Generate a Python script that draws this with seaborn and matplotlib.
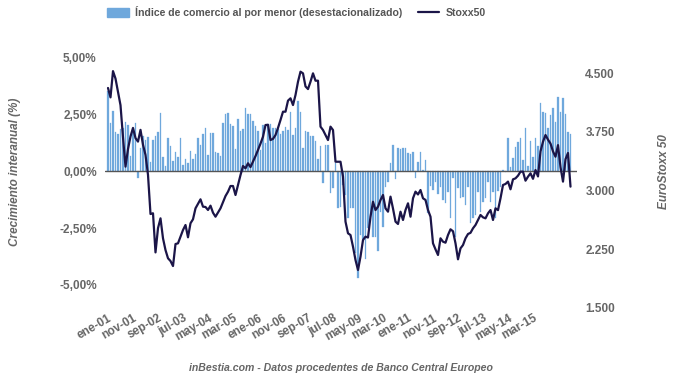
import numpy as np
import pandas as pd
import matplotlib.pyplot as plt
import seaborn as sns
from matplotlib.patches import Patch
from matplotlib.lines import Line2D

sns.set_style("white")
plt.rcParams['font.family'] = ['Liberation Sans', 'DejaVu Sans']

# ventas minoristas, % interanual (mensual, ene-01 .. jun-16)
retail = [
    3.50, 2.10, 2.63, 1.70, 1.63, 1.86, 1.90, 2.16, 2.02, 0.67,
    1.80, 2.09, -0.32, 1.00, 1.55, 1.36, 1.50, 0.41, 1.36, 1.55,
    1.73, 2.53, 0.62, 0.22, 1.46, 1.10, 0.44, 0.85, 0.63, 1.43,
    0.26, 0.51, 0.37, 0.88, 0.53, 0.75, 1.46, 1.14, 1.61, 1.90,
    0.70, 1.65, 1.65, 0.85, 0.77, 0.66, 2.09, 2.50, 2.53, 2.05,
    1.99, 0.95, 2.27, 1.75, 1.84, 2.78, 2.50, 2.50, 2.19, 1.99,
    1.75, 0.92, 2.00, 1.25, 2.07, 2.07, 1.88, 1.87, 1.84, 1.63,
    1.74, 1.93, 1.80, 2.57, 1.58, 1.88, 3.08, 2.57, 0.99, 1.75,
    1.70, 1.55, 1.55, 1.32, 0.53, 1.10, -0.51, 1.14, 1.14, -0.98,
    -0.76, 0.34, -1.61, -1.57, -0.60, -1.05, -2.05, -1.64, -1.64, -3.60,
    -4.70, -2.80, -3.00, -3.84, -2.50, -2.00, -2.90, -2.90, -3.50, -1.80,
    -2.44, -0.70, -0.47, 0.35, 1.14, -0.35, 1.00, 0.95, 1.03, 1.02,
    0.77, 0.75, 0.82, -0.32, 0.41, 0.82, 0.05, 0.48, -1.86, -0.64,
    -0.83, -0.47, -1.02, -0.69, -1.29, -1.42, -0.91, -2.08, -0.32, -2.88,
    -0.76, -1.20, -1.13, -1.49, -0.69, -2.30, -2.08, -1.93, -0.91, -1.78,
    -1.35, -1.20, -0.47, -1.35, -0.91, -2.08, -0.88, -0.69, 0.03, -0.05,
    1.43, 0.17, 0.58, 1.04, 1.27, 1.43, 0.50, 1.87, 0.22, 1.33,
    0.60, 1.43, 1.10, 2.97, 2.58, 2.55, 1.88, 2.46, 2.75, 2.16,
    3.23, 2.57, 3.19, 2.49, 1.73, 1.62,
]

# EuroStoxx 50
stoxx = [
    4310, 4190, 4525, 4430, 4260, 4090, 3680, 3305, 3530, 3690,
    3800, 3670, 3625, 3775, 3585, 3455, 3200, 2700, 2710, 2210,
    2520, 2645, 2390, 2240, 2135, 2100, 2036, 2317, 2326, 2410,
    2496, 2560, 2403, 2582, 2633, 2773, 2830, 2888, 2794, 2790,
    2752, 2807, 2717, 2666, 2720, 2773, 2850, 2930, 2985, 3058,
    3058, 2943, 3071, 3198, 3313, 3284, 3348, 3300, 3370, 3440,
    3518, 3600, 3688, 3837, 3840, 3645, 3660, 3709, 3800, 3901,
    4007, 4007, 4148, 4178, 4092, 4220, 4390, 4518, 4497, 4330,
    4296, 4390, 4497, 4403, 4403, 3816, 3773, 3709, 3645, 3816,
    3773, 3368, 3368, 3368, 3177, 2603, 2454, 2432, 2283, 2113,
    1985, 2156, 2368, 2411, 2400, 2666, 2857, 2751, 2794, 2879,
    2943, 2773, 2730, 2922, 2770, 2603, 2573, 2730, 2624, 2751,
    2837, 2666, 2901, 2986, 2950, 3007, 2901, 2880, 2751, 2666,
    2326, 2249, 2177, 2390, 2347, 2334, 2432, 2505, 2480, 2326,
    2122, 2262, 2304, 2390, 2445, 2460, 2518, 2560, 2624, 2688,
    2658, 2645, 2709, 2751, 2624, 2773, 2750, 2901, 3071, 3084,
    3114, 3016, 3143, 3156, 3190, 3241, 3241, 3126, 3177, 3220,
    3150, 3262, 3180, 3500, 3624, 3709, 3650, 3600, 3500, 3432,
    3580, 3300, 3114, 3400, 3480, 3050,
]

xlabels = ["ene-01", "nov-01", "sep-02", "jul-03", "may-04", "mar-05",
           "ene-06", "nov-06", "sep-07", "jul-08", "may-09", "mar-10",
           "ene-11", "nov-11", "sep-12", "jul-13", "may-14", "mar-15"]
left_ticks = [5, 2.5, 0, -2.5, -5]
left_labels = ["5,00%", "2,50%", "0,00%", "-2,50%", "-5,00%"]
right_ticks = [4500, 3750, 3000, 2250, 1500]
right_labels = ["4.500", "3.750", "3.000", "2.250", "1.500"]

df = pd.DataFrame({"mes": range(len(retail)), "retail": retail, "stoxx": stoxx})

bar_col = "#6FA8DC"
line_col = "#1B1548"
txt_col = "#666666"

fig = plt.figure(figsize=(6.8, 3.81), dpi=100)
ax = fig.add_axes([105/680, 1-308/381, 472/680, 258/381])
sns.barplot(data=df, x="mes", y="retail", color=bar_col, width=0.5,
            saturation=1, edgecolor=bar_col, linewidth=0.2, ax=ax)
ax.axhline(0, color="#555555", lw=1, zorder=3)

ax2 = ax.twinx()
sns.lineplot(x=df["mes"], y=df["stoxx"], ax=ax2, color=line_col, lw=1.6)

ax.set_xlim(-1.2, 187.6)
ax.set_ylim(-6.01, 5.31)
ax2.set_ylim(1500, 4795)

ax.set_yticks(left_ticks)
ax.set_yticklabels(left_labels)
ax2.set_yticks(right_ticks)
ax2.set_yticklabels(right_labels)
ax.set_xticks(range(0, 171, 10))
ax.set_xticklabels(xlabels, rotation=30, ha="right", rotation_mode="anchor")

for a in (ax, ax2):
    a.set_xlabel("")
    a.set_ylabel("")
    a.tick_params(length=0, labelsize=8.5, labelcolor=txt_col, pad=6)
    for lab in a.get_yticklabels() + a.get_xticklabels():
        lab.set_fontweight("bold")
    for s in a.spines.values():
        s.set_visible(False)
ax.tick_params(axis="x", pad=3)

fig.text(15/680, 1-172/381, "Crecimiento interanual (%)", rotation=90,
         ha="center", va="center", style="italic", fontweight="bold",
         color=txt_col, fontsize=8.5)
fig.text(664/680, 1-172/381, "EuroStoxx 50", rotation=90,
         ha="center", va="center", style="italic", fontweight="bold",
         color=txt_col, fontsize=8.5)
fig.text(341/680, 1-368/381,
         "inBestia.com - Datos procedentes de Banco Central Europeo",
         ha="center", va="center", style="italic", fontweight="bold",
         color=txt_col, fontsize=7.6)

handles = [Patch(color=bar_col), Line2D([], [], color=line_col, lw=1.6)]
names = ["Índice de comercio al por menor (desestacionalizado)", "Stoxx50"]
leg = fig.legend(handles, names, loc="center left",
                 bbox_to_anchor=(98/680, 1-12/381), ncol=2, frameon=False,
                 handlelength=2.0, handleheight=1.0, handletextpad=0.6,
                 columnspacing=1.5, prop={"weight": "bold", "size": 7.6})
for t in leg.get_texts():
    t.set_color("#555555")

fig.savefig("out.png", dpi=100)
